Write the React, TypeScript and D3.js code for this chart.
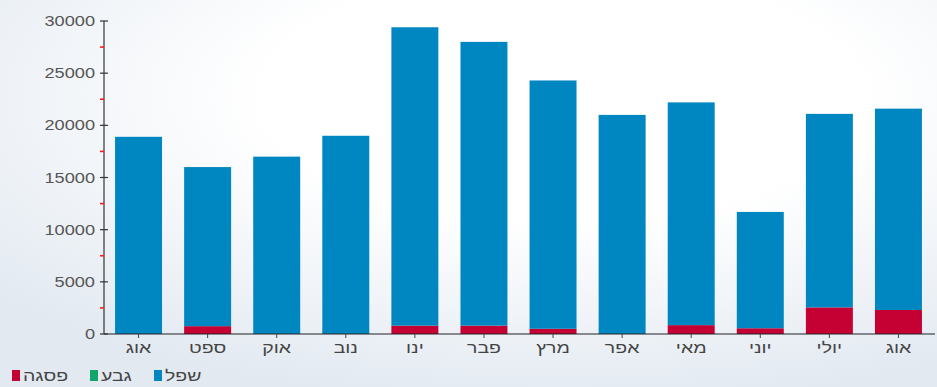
import React from "react";
import * as d3 from "d3";

const categories = ["אוג", "ספט", "אוק", "נוב", "ינו", "פבר", "מרץ", "אפר", "מאי", "יוני", "יולי", "אוג"];
const peakValues = [0, 750, 0, 0, 800, 800, 500, 0, 850, 550, 2550, 2300];
const ridgeValues = [0, 0, 0, 0, 0, 0, 0, 0, 0, 0, 0, 0];
const lowValues = [18900, 15250, 17000, 19000, 28600, 27200, 23800, 21000, 21350, 11150, 18550, 19300];
const yTicks = [0, 5000, 10000, 15000, 20000, 25000, 30000];
const seriesNames = ["פסגה", "גבע", "שפל"];
const seriesColors = ["#c50033", "#13a36b", "#0087c1"];

const W = 937;
const H = 387;

export default function App() {
  const x = d3.scaleBand<number>().domain(d3.range(categories.length)).range([104, 933]).paddingInner(0.32).paddingOuter(0.16);
  const y = d3.scaleLinear().domain([0, 30000]).range([334, 21]);
  const rows = categories.map((c, i) => ({ i, peak: peakValues[i], ridge: ridgeValues[i], low: lowValues[i] }));
  const stack = d3.stack<any>().keys(["peak", "ridge", "low"])(rows);
  const minor = d3.range(2500, 30000, 5000);
  const sx = 1.3;
  const font = "'Liberation Sans', Arial, sans-serif";
  const legendX = [12, 90, 154];
  return (
    <svg width={W} height={H} style={{ position: "absolute", left: 0, top: 0 }}>
      <defs>
        <radialGradient id="bg" cx="0.6" cy="0.25" r="0.8">
          <stop offset="0.4" stopColor="#ffffff" />
          <stop offset="1" stopColor="#e2e9f1" />
        </radialGradient>
      </defs>
      <rect x={0} y={0} width={W} height={H} fill="url(#bg)" />
      {stack.map((layer, si) => (
        <g key={si} fill={seriesColors[si]}>
          {layer.map((d, i) =>
            d[1] - d[0] > 0 ? (
              <rect key={i} x={x(i)} y={y(d[1])} width={x.bandwidth()} height={y(d[0]) - y(d[1])} />
            ) : null
          )}
        </g>
      ))}
      <line x1={104} x2={104} y1={y(30000)} y2={y(0)} stroke="#333" strokeWidth={1.2} />
      <line x1={104} x2={935} y1={y(0)} y2={y(0)} stroke="#222" strokeWidth={1.2} />
      {yTicks.map((t) => (
        <g key={t}>
          <line x1={100} x2={108} y1={y(t)} y2={y(t)} stroke="#333" strokeWidth={1.2} />
          <text transform={`translate(95,${y(t) + 5}) scale(${sx},1)`} textAnchor="end" fontFamily={font} fontSize={14} fill="#555">
            {t}
          </text>
        </g>
      ))}
      {minor.map((t) => (
        <line key={t} x1={100} x2={104} y1={y(t)} y2={y(t)} stroke="#ff1a1a" strokeWidth={1.6} />
      ))}
      {categories.map((c, i) => (
        <g key={i}>
          <line x1={x(i)! + x.bandwidth() / 2} x2={x(i)! + x.bandwidth() / 2} y1={y(0)} y2={y(0) + 4} stroke="#444" />
          <text transform={`translate(${x(i)! + x.bandwidth() / 2},${353}) scale(${sx},1)`} textAnchor="middle" fontFamily={font} fontSize={15} fill="#444">
            {c}
          </text>
        </g>
      ))}
      {seriesNames.map((n, i) => (
        <g key={n}>
          <rect x={legendX[i]} y={370} width={8} height={11} fill={seriesColors[i]} />
          <text transform={`translate(${legendX[i] + 11},${381}) scale(${sx},1)`} textAnchor="start" fontFamily={font} fontSize={15} fill="#444">
            {n}
          </text>
        </g>
      ))}
    </svg>
  );
}
